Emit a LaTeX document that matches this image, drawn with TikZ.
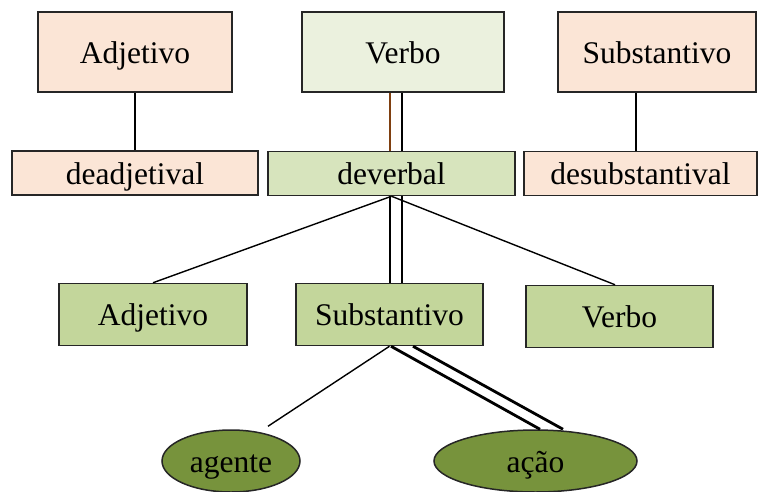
\documentclass[tikz,border=0pt]{standalone}
\usepackage{fontspec}
\setmainfont{Liberation Serif}
\usetikzlibrary{shapes.geometric}
\definecolor{peach}{HTML}{FBE5D6}
\definecolor{palegreen}{HTML}{EBF1DE}
\definecolor{midgreen}{HTML}{D7E4BD}
\definecolor{leafgreen}{HTML}{C3D69B}
\definecolor{olivegreen}{HTML}{77933C}
\definecolor{rust}{HTML}{7F3F10}
\begin{document}
\begin{tikzpicture}[x=1pt,y=-1pt,
  every node/.style={inner sep=0pt,line width=1.5pt,draw=black!85,
    font=\fontsize{31.5}{36}\selectfont,text height=22pt,text depth=0pt},
  box/.style={rectangle,minimum width=#1},
  tallbox/.style={box=#1,minimum height=80pt},
  flatbox/.style={box=#1,minimum height=44pt},
  midbox/.style={box=#1,minimum height=62pt,fill=leafgreen},
  oval/.style={ellipse,fill=olivegreen,minimum width=#1,minimum height=62pt},
  link/.style={line width=1.4pt,draw=black},
  heavy/.style={line width=2.8pt,draw=black}]
\useasboundingbox (0,0) rectangle (758,491);

% top row: word classes
\node[tallbox=194pt,fill=peach] (A1) at (135,52) {Adjetivo};
\node[tallbox=202pt,fill=palegreen] (V1) at (403,52) {Verbo};
\node[tallbox=198pt,fill=peach] (S1) at (657,52) {Substantivo};

% second row: derivation sources
\node[flatbox=246pt,fill=peach] (D1) at (135,173) {deadjetival};
\node[flatbox=247pt,fill=midgreen] (DV) at (391.5,173.5) {deverbal};
\node[flatbox=233pt,fill=peach] (DS) at (640.5,173.5) {desubstantival};

% third row: deverbal outputs
\node[midbox=188pt] (A2) at (153,314.5) {Adjetivo};
\node[midbox=187pt] (S2) at (389.5,314.5) {Substantivo};
\node[midbox=187pt] (V2) at (619.5,316.5) {Verbo};

% bottom row: semantic readings
\node[oval=138pt] (AG) at (231,461) {agente};
\node[oval=203pt] (AC) at (535.5,461) {ação};

% simple links
\draw[link] (A1.south) -- (D1.north);
\draw[link] ([xshift=-21pt]S1.south) -- ([xshift=-4.5pt]DS.north);
\draw[link] (DV.south) -- (A2.north);
\draw[link] (DV.south) -- ([xshift=-4.5pt]V2.north);
\draw[link] (S2.south) -- ([xshift=37pt,yshift=3pt]AG.north);

% highlighted double path Verbo -> deverbal -> Substantivo -> ação
\draw[line width=2.6pt,draw=rust] ([xshift=-13pt]V1.south) -- ([xshift=-1.5pt]DV.north);
\draw[heavy] ([xshift=-1pt]V1.south) -- ([xshift=10.5pt]DV.north);
\draw[heavy] ([xshift=-1.5pt]DV.south) -- ([xshift=0.5pt]S2.north);
\draw[heavy] ([xshift=10.5pt]DV.south) -- ([xshift=12.5pt]S2.north);
\draw[heavy] ([xshift=1.5pt]S2.south) -- ([xshift=4.5pt]AC.north);
\draw[heavy] ([xshift=23.5pt]S2.south) -- ([xshift=27.5pt]AC.north);
\end{tikzpicture}
\end{document}
